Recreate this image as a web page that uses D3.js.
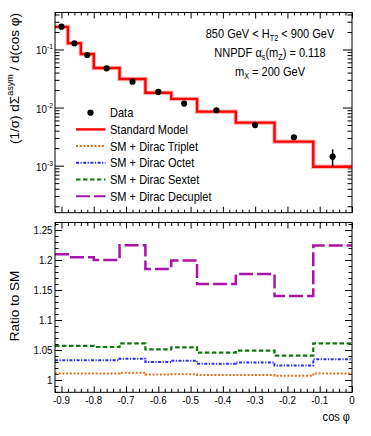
<!DOCTYPE html>
<html>
<head>
<meta charset="utf-8">
<script src="https://cdn.jsdelivr.net/npm/d3@7"></script>
<style>
  body { margin: 0; background: #fff; }
  svg { display: block; font-family: 'Liberation Sans', Arial, sans-serif; }
  .tk line { stroke: #000; stroke-width: 1; }
</style>
</head>
<body>
<svg class="svg"></svg>
<script>
// bins in cos(phi)
const binEdges = [-0.92, -0.88, -0.84, -0.80, -0.72, -0.64, -0.56, -0.48, -0.36, -0.24, -0.12, 0];

// top panel: normalised distribution
const dataVals = [0.247, 0.128, 0.0804, 0.0474, 0.0279, 0.0186, 0.0117, 0.0090, 0.0050, 0.00308, 0.00143];
const dataErr = [0.004, 0.002, 0.0012, 0.0007, 0.0005, 0.0004, 0.0003, 0.0003, 0.0002, 0.0003, 0.00048];
const smVals = [0.245, 0.128, 0.0837, 0.048, 0.031, 0.018, 0.0141, 0.0085, 0.0055, 0.00259, 0.00096];

// bottom panel: ratio to SM
const ratioTriplet = [1.011, 1.011, 1.011, 1.011, 1.012, 1.009, 1.0095, 1.0083, 1.0085, 1.0072, 1.011];
const ratioOctet = [1.033, 1.033, 1.033, 1.033, 1.0356, 1.030, 1.032, 1.027, 1.029, 1.024, 1.0344];
const ratioSextet = [1.057, 1.057, 1.057, 1.055, 1.061, 1.051, 1.0544, 1.0456, 1.049, 1.0406, 1.061];
const ratioDecuplet = [1.2095, 1.2045, 1.2045, 1.200, 1.2245, 1.185, 1.199, 1.160, 1.1767, 1.140, 1.224];

const xTicks = [-0.9, -0.8, -0.7, -0.6, -0.5, -0.4, -0.3, -0.2, -0.1, 0];
const logTicks = [1e-3, 1e-2, 1e-1];
const logLabels = ['-3', '-2', '-1'];
const ratioTicks = [1, 1.05, 1.1, 1.15, 1.2, 1.25];
const ratioLabels = ['1', '1.05', '1.1', '1.15', '1.2', '1.25'];

const legendLabels = ['Data', 'Standard Model', 'SM + Dirac Triplet', 'SM + Dirac Octet', 'SM + Dirac Sextet', 'SM + Dirac Decuplet'];

const width = 371, height = 436;
const L = 55, R = 352;
const T1 = 12.5, B1 = 212.7;
const T2 = 222.5, B2 = 392.3;
const SX = 0.85; // glyphs in the reference are a bit narrow

const svg = d3.select('.svg').attr('width', width).attr('height', height);
svg.append('rect').attr('width', width).attr('height', height).attr('fill', '#fff');

const x = d3.scaleLinear().domain([-0.92, 0]).range([L, R]);
const yTop = d3.scaleLog().domain([1.55e-4, 0.433]).range([B1, T1]);
const yRat = d3.scaleLinear().domain([0.9795, 1.2625]).range([B2, T2]);

const series = [
  { vals: ratioTriplet, color: '#e2701c', dash: '2,1.7', w: 2 },
  { vals: ratioOctet, color: '#2a2aff', dash: '3,1.5,1.2,1.5', w: 2 },
  { vals: ratioSextet, color: '#117711', dash: '4.5,2.5', w: 2.2 },
  { vals: ratioDecuplet, color: '#a815a6', dash: '14,4', w: 2.5 }
];

function text(parent, px, py, anchor, size) {
  return parent.append('text')
    .attr('transform', `translate(${px},${py}) scale(${SX},1)`)
    .attr('text-anchor', anchor)
    .style('font-size', size + 'px');
}

function stepPath(yScale, vals) {
  const pts = binEdges.map((e, i) => [e, vals[Math.min(i, vals.length - 1)]]);
  return d3.line().x(d => x(d[0])).y(d => yScale(d[1])).curve(d3.curveStepAfter)(pts);
}

function ticks(axisFn, scale, vals, len, tx, ty) {
  const g = svg.append('g').attr('class', 'tk')
    .attr('transform', `translate(${tx},${ty})`)
    .call(axisFn(scale).tickValues(vals).tickSize(-len).tickFormat(''));
  g.select('.domain').remove();
}

const xMinor = d3.range(0, 47).map(i => -0.92 + i * 0.02).filter(v => !xTicks.some(t => Math.abs(t - v) < 1e-6));
const logMinor = [];
for (let k = -4; k <= -1; k++) for (let m = 2; m <= 9; m++) {
  const v = m * Math.pow(10, k);
  if (v > 1.55e-4 && v < 0.433) logMinor.push(v);
}
const ratMinor = d3.range(98, 127).map(i => i / 100).filter(v => !ratioTicks.some(t => Math.abs(t - v) < 1e-6));

// ---- top panel ----
ticks(d3.axisBottom, x, xTicks, 6, 0, B1);
ticks(d3.axisBottom, x, xMinor, 3, 0, B1);
ticks(d3.axisTop, x, xTicks, 6, 0, T1);
ticks(d3.axisTop, x, xMinor, 3, 0, T1);
ticks(d3.axisLeft, yTop, logTicks, 9, L, 0);
ticks(d3.axisLeft, yTop, logMinor, 4.5, L, 0);
ticks(d3.axisRight, yTop, logTicks, 9, R, 0);
ticks(d3.axisRight, yTop, logMinor, 4.5, R, 0);

logTicks.forEach((v, i) => {
  const t = text(svg, 53, yTop(v) + 5, 'end', 11.5);
  t.append('tspan').text('10');
  t.append('tspan').attr('dy', -5).style('font-size', '8px').text(logLabels[i]);
});

// SM with its light band
svg.append('path').attr('d', stepPath(yTop, smVals))
  .attr('fill', 'none').attr('stroke', '#ff8c8c').attr('stroke-width', 4.5).attr('opacity', 0.6);
svg.append('path').attr('d', stepPath(yTop, smVals))
  .attr('fill', 'none').attr('stroke', '#ff0000').attr('stroke-width', 2.4);

// data
const centers = dataVals.map((d, i) => (binEdges[i] + binEdges[i + 1]) / 2);
const pts = svg.append('g').selectAll('g').data(dataVals).join('g');
pts.append('line')
  .attr('x1', (d, i) => x(centers[i])).attr('x2', (d, i) => x(centers[i]))
  .attr('y1', (d, i) => yTop(d + dataErr[i])).attr('y2', (d, i) => yTop(d - dataErr[i]))
  .attr('stroke', '#000').attr('stroke-width', 1.5);
pts.append('circle')
  .attr('cx', (d, i) => x(centers[i])).attr('cy', d => yTop(d))
  .attr('r', 3.1).attr('fill', '#000');

svg.append('rect').attr('x', L).attr('y', T1).attr('width', R - L).attr('height', B1 - T1)
  .attr('fill', 'none').attr('stroke', '#000').attr('stroke-width', 1);

// legend
const legY = d3.range(6).map(i => 112.7 + i * 16.7);
const leg = svg.append('g');
legendLabels.forEach((lab, i) => {
  const y = legY[i];
  if (i === 0) {
    leg.append('circle').attr('cx', 90.5).attr('cy', y).attr('r', 3.1).attr('fill', '#000');
  } else if (i === 1) {
    leg.append('line').attr('x1', 76).attr('x2', 105.5).attr('y1', y).attr('y2', y)
      .attr('stroke', '#ff0000').attr('stroke-width', 2.4);
  } else {
    const s = series[i - 2];
    leg.append('line').attr('x1', 76).attr('x2', 105.5).attr('y1', y).attr('y2', y)
      .attr('stroke', s.color).attr('stroke-width', 2).attr('stroke-dasharray', s.dash);
  }
  text(leg, 110, y + 4.6, 'start', 13).text(lab);
});

// info text
const info = svg.append('g');
let t1 = text(info, 270, 38, 'middle', 13);
t1.append('tspan').text('850 GeV < H');
t1.append('tspan').attr('dy', 3).style('font-size', '8.5px').text('T2');
t1.append('tspan').attr('dy', -3).text(' < 900 GeV');
let t2 = text(info, 270, 56.5, 'middle', 13);
t2.append('tspan').text('NNPDF \u03b1');
t2.append('tspan').attr('dy', 3).style('font-size', '8.5px').text('s');
t2.append('tspan').attr('dy', -3).text('(m');
t2.append('tspan').attr('dy', 3).style('font-size', '8.5px').text('Z');
t2.append('tspan').attr('dy', -3).text(') = 0.118');
let t3 = text(info, 270, 75.5, 'middle', 13);
t3.append('tspan').text('m');
t3.append('tspan').attr('dy', 3).style('font-size', '8.5px').text('X');
t3.append('tspan').attr('dy', -3).text(' = 200 GeV');

// y title top
const yt = svg.append('text')
  .attr('transform', 'translate(18.5,13) rotate(-90)')
  .attr('text-anchor', 'end').style('font-size', '13.5px');
yt.append('tspan').text('(1/\u03c3) d\u03a3');
yt.append('tspan').attr('dy', -5.5).style('font-size', '9px').text('asym');
yt.append('tspan').attr('dy', 5.5).text(' / d(cos \u03c6)');

// ---- ratio panel ----
ticks(d3.axisBottom, x, xTicks, 6, 0, B2);
ticks(d3.axisBottom, x, xMinor, 3.5, 0, B2);
ticks(d3.axisTop, x, xTicks, 6, 0, T2);
ticks(d3.axisTop, x, xMinor, 3.5, 0, T2);
ticks(d3.axisLeft, yRat, ratioTicks, 7, L, 0);
ticks(d3.axisLeft, yRat, ratMinor, 3.5, L, 0);
ticks(d3.axisRight, yRat, ratioTicks, 7, R, 0);
ticks(d3.axisRight, yRat, ratMinor, 3.5, R, 0);

series.forEach(s => {
  svg.append('path').attr('d', stepPath(yRat, s.vals))
    .attr('fill', 'none').attr('stroke', s.color).attr('stroke-width', s.w)
    .attr('stroke-dasharray', s.dash);
});

svg.append('rect').attr('x', L).attr('y', T2).attr('width', R - L).attr('height', B2 - T2)
  .attr('fill', 'none').attr('stroke', '#000').attr('stroke-width', 1);

ratioTicks.forEach((v, i) => {
  text(svg, 52.5, yRat(v) + 4.2, 'end', 11.5).text(ratioLabels[i]);
});
xTicks.forEach(v => {
  text(svg, x(v), 404, 'middle', 11.5).text(v === 0 ? '0' : d3.format('.1f')(v).replace('\u2212', '-'));
});

text(svg, 350, 421, 'end', 13).text('cos \u03c6');

svg.append('text')
  .attr('transform', 'translate(19,306) rotate(-90)')
  .attr('text-anchor', 'middle').style('font-size', '13.5px')
  .text('Ratio to SM');
</script>
</body>
</html>
